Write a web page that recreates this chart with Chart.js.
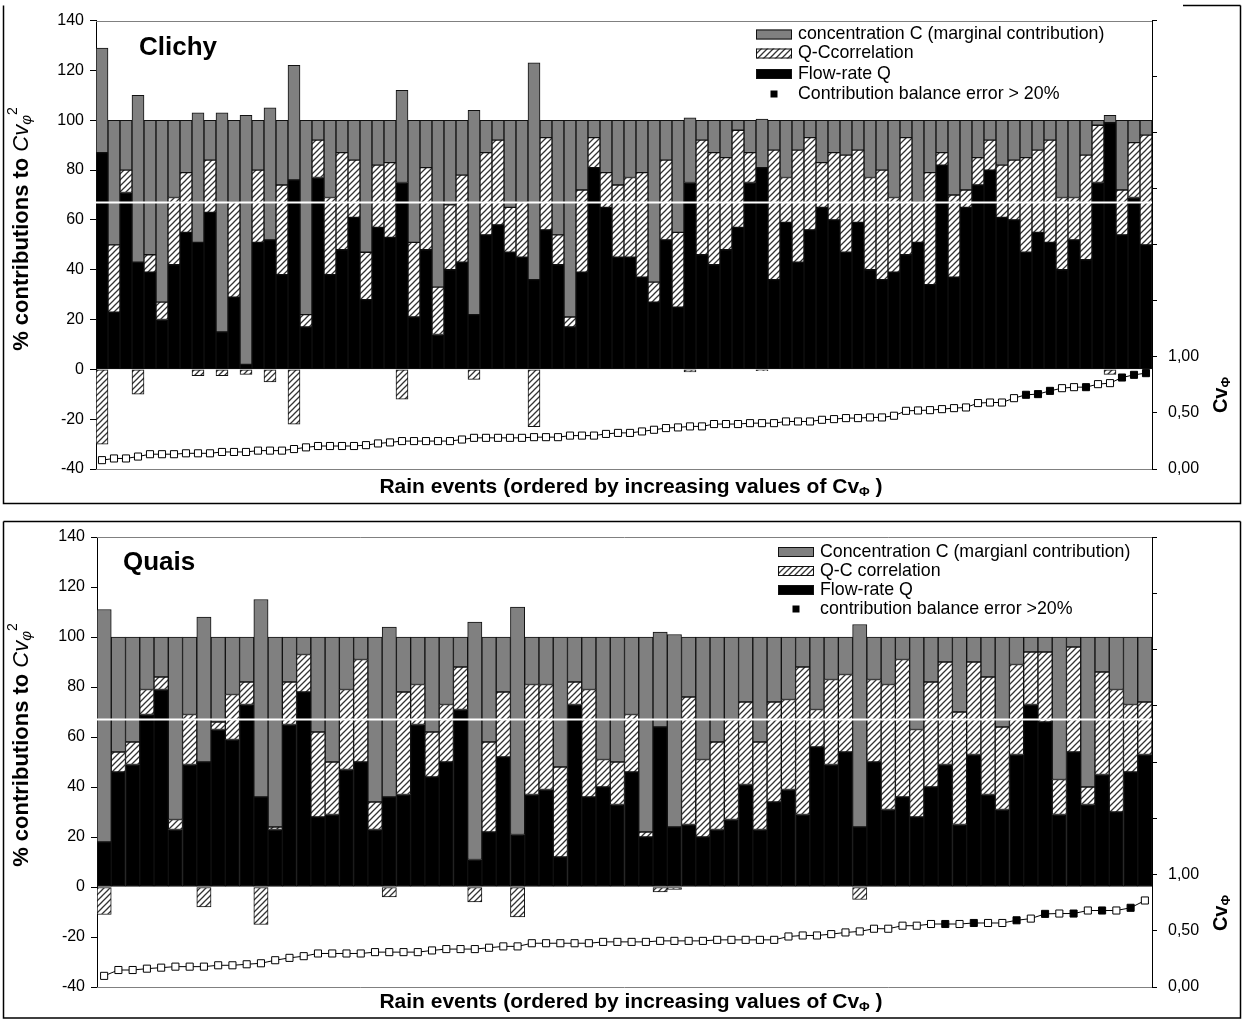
<!DOCTYPE html>
<html><head><meta charset="utf-8">
<script src="https://cdn.jsdelivr.net/npm/chart.js@4.4.1/dist/chart.umd.min.js"></script>
<style>
html,body{margin:0;padding:0;background:#fff;}
#wrap{position:relative;width:1243px;height:1021px;overflow:hidden;background:#fff;}
canvas{position:absolute;left:0;}
</style></head><body>
<div id="wrap">
<canvas id="c1" width="1243" height="512" style="top:0px"></canvas>
<canvas id="c2" width="1243" height="509" style="top:512px"></canvas>
</div>
<script>
// ---------------- DATA ----------------
// Clichy: contributions (%) to Cv_phi^2 for each rain event
const clichyFlowQ = [87,23,71,43,39,20,42,55,51,63,15,29,2,51,52,38,76,17,77,38,48,61,28,57,53,75,21,48,14,40,
  43,22,54,58,47,45,36,56,42,17,39,81,65,45,45,37,27,52,25,75,46,42,48,57,75,81,36,59,43,56,
  65,60,47,59,40,36,39,46,51,34,82,37,65,74,80,61,60,47,55,51,40,52,44,75,99,54,69,50];
const clichyCorrQC = [-30,27,9,-10,7,7,27,24,-2.5,21,-2.5,38,-2,29,-5,36,-22,5,15,31,39,23,19,25,30,-12,30,33,19,26,
  35,-4,33,34,18,22,-23,37,12,4,33,12,14,29,32,42,8,32,30,-1,46,45,37,39,12,-0.5,52,18,45,37,
  18,27,39,29,37,44,30,47,16,45,5,33,7,11,12,21,24,38,33,41,29,17,42,23,-2,18,22,44];
const clichyConcC = [42,50,20,67,54,73,31,21,52,16,88,33,100,20,53,26,46,78,8,31,13,16,53,18,17,37,49,19,67,34,
  22,82,13,8,35,33,87,7,46,79,28,7,21,26,23,21,65,16,45,26,8,13,15,4,13,19.5,12,23,12,7,
  17,13,14,12,23,20,31,7,33,21,13,30,28,15,8,18,16,15,12,8,31,31,14,2,3,28,9,6];
const clichyCv = [0.079,0.094,0.094,0.111,0.132,0.132,0.132,0.140,0.140,0.140,
  0.152,0.152,0.152,0.164,0.164,0.164,0.178,0.193,0.205,0.205,
  0.205,0.205,0.213,0.228,0.237,0.249,0.249,0.249,0.249,0.249,
  0.263,0.278,0.278,0.278,0.278,0.278,0.284,0.284,0.284,0.298,
  0.298,0.298,0.313,0.322,0.322,0.335,0.350,0.365,0.371,0.380,
  0.380,0.401,0.401,0.401,0.409,0.409,0.409,0.424,0.424,0.424,
  0.439,0.445,0.454,0.454,0.460,0.460,0.475,0.519,0.522,0.525,
  0.534,0.543,0.549,0.588,0.593,0.593,0.632,0.662,0.668,0.697,
  0.721,0.730,0.730,0.757,0.766,0.816,0.840,0.855];
const clichyErrorEvents = [78,79,80,83,86,87,88];

// Quais
const quaisFlowQ = [18,46,49,69,79,23,49,50,63,59,73,36,23,65,78,28,29,47,50,23,36,37,65,44,50,71,11,22,52,21,
  37,39,12,73,36,40,33,46,20,64,24,25,20,23,27,41,23,34,39,29,56,49,54,24,50,31,36,28,40,49,
  25,53,37,31,53,73,66,29,54,33,45,30,46,53];
const quaisCorrQC = [-11,8,9,10,5,4,20,-8,3,18,9,-15,1,17,15,34,21,32,41,11,-4,41,16,18,23,17,-6,36,26,-12,
  44,42,36,9,43,11,17,23,2,-2,-1,51,31,35,40,33,35,40,36,59,15,34,31,-5,33,50,55,35,42,41,
  45,37,47,33,36,21,28,14,42,7,41,49,27,21];
const quaisConcC = [93,46,42,21,16,73,31,58,34,23,18,79,76,18,7,38,50,21,9,66,68,22,19,38,27,12,95,42,22,91,
  19,19,52,18,21,49,50,31,78,38,77,24,49,42,33,26,42,26,25,12,29,17,15,81,17,19,9,37,18,10,
  30,10,16,36,11,6,6,57,4,60,14,21,27,26];
const quaisCv = [0.099,0.151,0.151,0.163,0.172,0.181,0.181,0.181,0.193,0.193,
  0.202,0.211,0.238,0.259,0.274,0.298,0.298,0.298,0.298,0.310,
  0.310,0.310,0.310,0.325,0.337,0.337,0.337,0.349,0.361,0.361,
  0.389,0.389,0.389,0.389,0.389,0.401,0.401,0.401,0.401,0.410,
  0.410,0.410,0.410,0.419,0.419,0.419,0.419,0.419,0.449,0.458,
  0.458,0.470,0.485,0.494,0.518,0.518,0.545,0.545,0.560,0.560,
  0.560,0.569,0.569,0.569,0.593,0.608,0.650,0.653,0.653,0.680,
  0.680,0.680,0.704,0.769];
const quaisErrorEvents = [60,62,65,67,69,71,73];

// axes / reference
const leftAxisTicks = {min:-40, max:140, step:20};
const cvAxisTicks = {min:0, max:4, step:0.5, lastLabelled:1};
const referenceLevel = 67;

const clichyLegend = ['concentration C (marginal contribution)','Q-Ccorrelation','Flow-rate Q','Contribution balance error > 20%'];
const quaisLegend = ['Concentration C (margianl contribution)','Q-C correlation','Flow-rate Q','contribution balance error >20%'];

// ---------------- STYLE / LAYOUT ----------------
const FONT = '"Liberation Sans", Arial, sans-serif';
function makeHatch(){
  const c=document.createElement('canvas'); c.width=6; c.height=6;
  const g=c.getContext('2d'); g.fillStyle='#fff'; g.fillRect(0,0,6,6);
  g.strokeStyle='#333'; g.lineWidth=1.3;
  g.beginPath(); g.moveTo(-1,7); g.lineTo(7,-1); g.moveTo(-1,1); g.lineTo(1,-1); g.moveTo(5,7); g.lineTo(7,5); g.stroke();
  return g.createPattern(c,'repeat');
}
const HATCH = makeHatch();
const GRAY = '#808080';

function richText(ctx, segs, cx, cy, rot){
  ctx.save(); ctx.translate(cx,cy); if(rot) ctx.rotate(rot);
  let w=0; segs.forEach(s=>{ctx.font=s.font; s.w=ctx.measureText(s.t).width; w+=s.w;});
  let x=-w/2; ctx.textBaseline='middle'; ctx.textAlign='left'; ctx.fillStyle='#000';
  segs.forEach(s=>{ctx.font=s.font; ctx.fillText(s.t,x,s.dy||0); x+=s.w;});
  ctx.restore();
}

function build(id, p){
  const n = p.Q.length;
  const labels = Array.from({length:n},(_,i)=>String(i+1));
  const ptBg = labels.map((_,i)=> p.err.includes(i+1) ? '#000' : '#fff');
  const barBase = {borderColor:'#111', borderWidth:1, borderSkipped:false, stack:'s', categoryPercentage:1, barPercentage:1};
  const deco = {
    id:'deco',
    afterDatasetsDraw(chart){
      const ctx=chart.ctx, a=chart.chartArea, y=chart.scales.y;
      ctx.save();
      const yr=y.getPixelForValue(referenceLevel);
      ctx.strokeStyle='#fff'; ctx.lineWidth=2;
      ctx.beginPath(); ctx.moveTo(a.left,yr); ctx.lineTo(a.right,yr); ctx.stroke();
      ctx.strokeStyle=GRAY; ctx.lineWidth=1;
      ctx.beginPath(); ctx.moveTo(a.left,Math.round(a.top)+0.5); ctx.lineTo(a.right,Math.round(a.top)+0.5);
      ctx.moveTo(a.left,Math.round(a.bottom)+0.5); ctx.lineTo(a.right,Math.round(a.bottom)+0.5); ctx.stroke();
      ctx.restore();
    },
    afterDraw(chart){
      const ctx=chart.ctx; ctx.save();
      ctx.strokeStyle='#000'; ctx.lineWidth=1.5;
      ctx.beginPath();
      const f=p.frame;
      if(f.partialTop){ ctx.moveTo(f.partialTop,f.t); ctx.lineTo(f.r,f.t); }
      else { ctx.moveTo(f.l,f.t); ctx.lineTo(f.r,f.t); }
      ctx.moveTo(f.r,f.t); ctx.lineTo(f.r,f.b); ctx.lineTo(f.l,f.b); ctx.lineTo(f.l,f.t);
      ctx.stroke();
      ctx.fillStyle='#000'; ctx.font='bold 26px '+FONT; ctx.textBaseline='middle'; ctx.textAlign='left';
      ctx.fillText(p.title, p.titleX, p.titleY);
      const L=p.legend;
      const fills=[GRAY,HATCH,'#000'];
      ctx.font='17.8px '+FONT;
      for(let i=0;i<4;i++){
        const ry=L.rows[i];
        if(i<3){
          ctx.fillStyle=fills[i]; ctx.fillRect(L.bx,ry-5,36,10);
          ctx.strokeStyle='#111'; ctx.lineWidth=1; ctx.strokeRect(L.bx+0.5,ry-4.5,35,9);
        } else {
          ctx.fillStyle='#000'; ctx.fillRect(L.bx+14.5,ry-3.5,7,7);
        }
        ctx.fillStyle='#000'; ctx.fillText(p.leg[i], L.tx, ry);
      }
      const B='bold 21px '+FONT;
      richText(ctx,[{t:'Rain events (ordered by increasing values of Cv',font:B},{t:'\u03A6',font:'bold 13px '+FONT,dy:5},{t:' )',font:B}], p.xt[0], p.xt[1], 0);
      const BY='bold 22px '+FONT;
      richText(ctx,[{t:'% contributions to ',font:BY},{t:'Cv',font:'italic 22px '+FONT},{t:'\u03C6',font:'italic 15px '+FONT,dy:5},{t:'2',font:'14px '+FONT,dy:-9}], p.yt[0], p.yt[1], -Math.PI/2);
      richText(ctx,[{t:'Cv',font:'bold 20px '+FONT},{t:'\u03A6',font:'bold 13px '+FONT,dy:5}], p.rt[0], p.rt[1], -Math.PI/2);
      ctx.restore();
    }
  };
  return new Chart(document.getElementById(id), {
    type:'bar',
    data:{labels, datasets:[
      Object.assign({label:p.leg[2], data:p.Q, backgroundColor:'#000', order:1}, barBase),
      Object.assign({label:p.leg[1], data:p.corr, backgroundColor:HATCH, order:2}, barBase),
      Object.assign({label:p.leg[0], data:p.C, backgroundColor:GRAY, order:3}, barBase),
      {type:'line', label:'Cv', data:p.cv, yAxisID:'y2', borderColor:'#000', borderWidth:1,
        pointStyle:'rect', pointRadius:5, pointHoverRadius:5, pointBackgroundColor:ptBg, pointBorderColor:'#000', pointBorderWidth:1,
        order:0, stack:'cv', fill:false, tension:0}
    ]},
    options:{
      responsive:false, animation:false, devicePixelRatio:1,
      layout:{padding:{top:p.padTop,left:0,right:0,bottom:0}},
      plugins:{legend:{display:false}, tooltip:{enabled:false}, title:{display:false}},
      scales:{
        x:{stacked:true, offset:true, ticks:{display:false}, grid:{display:false}, border:{display:false},
           afterFit(s){ s.height = p.xH; }},
        y:{stacked:true, position:'left', min:leftAxisTicks.min, max:leftAxisTicks.max,
           ticks:{stepSize:leftAxisTicks.step, color:'#000', font:{family:FONT,size:16}, padding:6},
           grid:{drawOnChartArea:false, drawTicks:true, tickLength:6, tickColor:'#000', color:'#000'},
           border:{display:true, color:'#000', width:1},
           afterFit(s){ s.width = p.left; }},
        y2:{position:'right', min:cvAxisTicks.min, max:cvAxisTicks.max,
           ticks:{stepSize:cvAxisTicks.step, color:'#000', font:{family:FONT,size:16}, padding:11,
             callback:(v)=> v<=cvAxisTicks.lastLabelled ? v.toFixed(2).replace('.',',') : ''},
           grid:{drawOnChartArea:false, drawTicks:true, tickLength:5, tickColor:'#000', color:'#000'},
           border:{display:true, color:'#000', width:1},
           afterFit(s){ s.width = 1243 - p.right; }}
      }
    },
    plugins:[deco]
  });
}

build('c1',{
  Q:clichyFlowQ, corr:clichyCorrQC, C:clichyConcC, cv:clichyCv, err:clichyErrorEvents, leg:clichyLegend,
  title:'Clichy', titleX:139, titleY:48,
  padTop:18, xH:43, left:96, right:1152,
  legend:{bx:756, tx:798, rows:[34.5,53.5,74,94]},
  xt:[631,487], yt:[22,229], rt:[1221,395],
  frame:{l:3.5,t:5.5,r:1240.5,b:503.5,partialTop:1183}
});
build('c2',{
  Q:quaisFlowQ, corr:quaisCorrQC, C:quaisConcC, cv:quaisCv, err:quaisErrorEvents, leg:quaisLegend,
  title:'Quais', titleX:123, titleY:51,
  padTop:25, xH:34, left:97, right:1152,
  legend:{bx:778, tx:820, rows:[40,59,78,97]},
  xt:[631,490], yt:[22,233], rt:[1221,401],
  frame:{l:3.5,t:9.5,r:1240.5,b:506,partialTop:0}
});
</script>
</body></html>
